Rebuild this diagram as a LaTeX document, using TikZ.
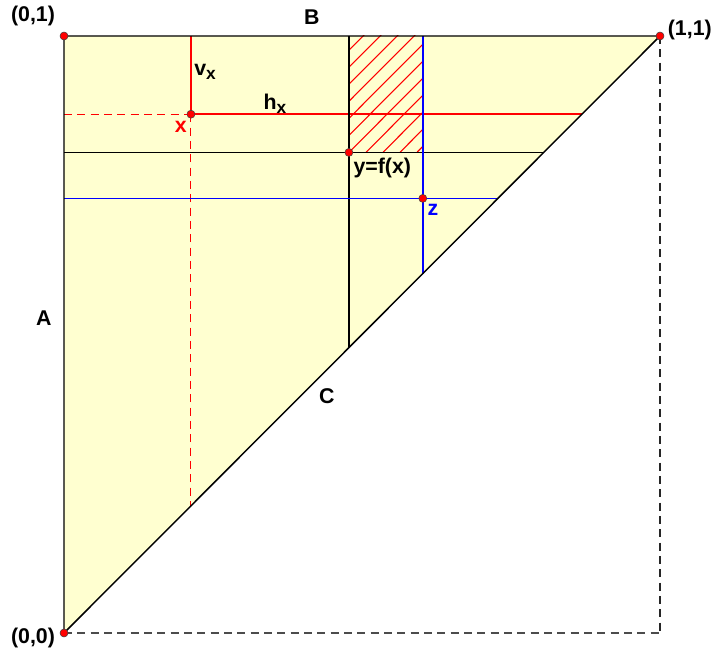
\documentclass[tikz,border=0pt]{standalone}
\usepackage{fontspec}
\setmainfont{Liberation Sans}
\definecolor{paleyellow}{RGB}{255,255,208}
\newcommand{\subx}{\raisebox{-3pt}{\fontsize{13}{14}\selectfont x}}

\begin{document}
\begin{tikzpicture}[
    x=447pt,y=447.75pt,
    font=\fontsize{16}{18}\selectfont\bfseries,
    line width=1.1pt,
    guide/.style={dash pattern=on 6pt off 4pt,line width=0.8pt},
    hatch/.style={red,line width=0.8pt},
    dot/.style={circle,fill=red,draw=black!75,line width=0.4pt,
        inner sep=0pt,minimum size=6pt},
    lbl/.style={inner sep=0pt}
]
% fixed canvas, same margins as the reference
\path[use as bounding box] (-0.1074,-0.0352) rectangle (1.1057,1.0603);

\coordinate (O) at (0,0);
\coordinate (TL) at (0,1);
\coordinate (TR) at (1,1);
\coordinate (BR) at (1,0);
\coordinate (X) at (0.213,0.869);
\coordinate (Y) at (0.478,0.805);
\coordinate (Z) at (0.602,0.728);
% where the guide lines meet the diagonal
\coordinate (Xh) at (0.869,0.869);
\coordinate (Xv) at (0.213,0.213);
\coordinate (Yh) at (0.805,0.805);
\coordinate (Yv) at (0.478,0.478);
\coordinate (Zh) at (0.728,0.728);
\coordinate (Zv) at (0.602,0.602);

\fill[paleyellow] (O) -- (TL) -- (TR) -- cycle;

% hatched strip between y and z, above y
\begin{scope}
    \clip (Y) rectangle (Z |- TR);
    \foreach \c in {0.1845,0.213,...,0.53}
        \draw[hatch] (0,\c) -- (1,1+\c);
\end{scope}

\draw[black!70,guide] (O) -- (BR);
\draw[black!85,guide] (TR) -- (BR);

\draw[red,guide] (X -| TL) -- (X);
\draw[red,guide] (X) -- (Xv);
\draw[red] (X |- TL) -- (X) -- (Xh);

\draw (Y -| TL) -- (Yh);
\draw (Y |- TL) -- (Yv);

\draw[blue] (Z -| TL) -- (Zh);
\draw[blue] (Z |- TL) -- (Zv);

\draw (O) -- (TL) -- (TR) -- cycle;

\foreach \p in {O,TL,TR,X,Y,Z}
    \node[dot] at (\p) {};

\node[lbl] (lblTL) at (-0.052,1.0335) {(0,1)};
\node[lbl] (lblTR) at (1.050,1.010) {(1,1)};
\node[lbl] (lblO) at (-0.052,-0.008) {(0,0)};
\node[lbl] (lblB) at (0.416,1.032) {B};
\node[lbl] (lblA) at (-0.034,0.528) {A};
\node[lbl] (lblC) at (0.441,0.397) {C};
\node[lbl] (lblv) at (0.2366,0.9397) {v\subx};
\node[lbl] (lblh) at (0.354,0.886) {h\subx};
\node[lbl,red] (lblx) at (0.196,0.847) {x};
\node[lbl] (lbly) at (0.534,0.779) {y=f(x)};
\node[lbl,blue] (lblz) at (0.619,0.7085) {z};
\end{tikzpicture}
\end{document}
